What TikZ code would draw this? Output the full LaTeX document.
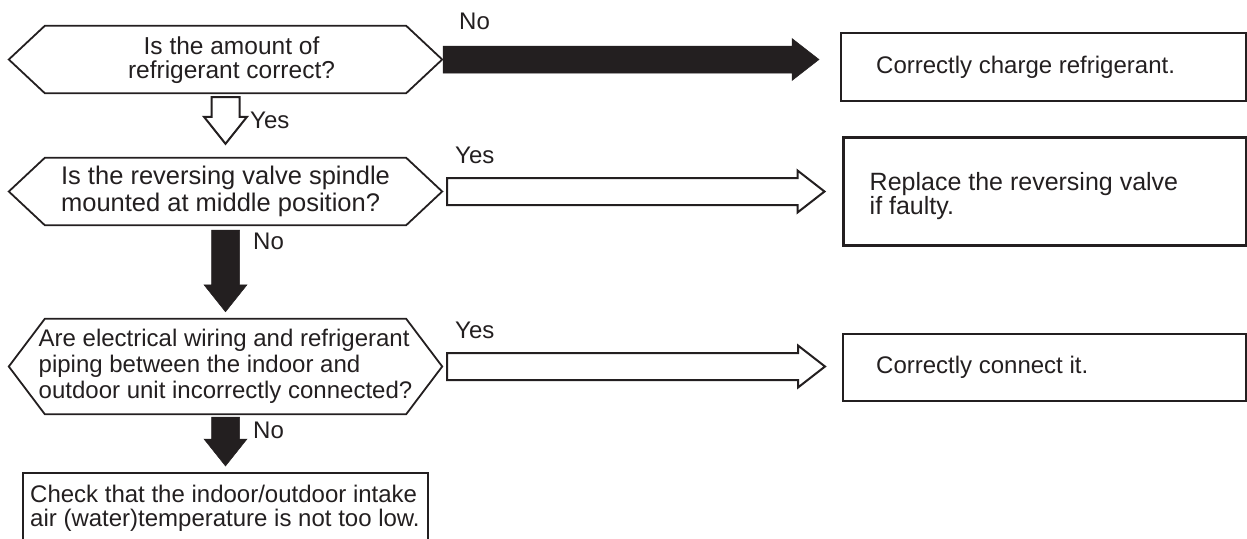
\documentclass[tikz,border=0pt]{standalone}
\usepackage{fontspec}
\setmainfont{Liberation Sans}
\usetikzlibrary{calc}
\definecolor{ink}{RGB}{35,31,32}
% block arrows: #1 style, #2 tail, #3 tip
\newcommand\rightblock[3]{\draw[#1] ($(#2)+(0,13.5)$) -- ($(#3)+(-27,13.5)$) -- ($(#3)+(-27,21)$) -- (#3) -- ($(#3)+(-27,-21)$) -- ($(#3)+(-27,-13.5)$) -- ($(#2)+(0,-13.5)$) -- cycle;}
\newcommand\downblock[3]{\draw[#1] ($(#2)+(-14,0)$) -- ($(#3)+(-14,27)$) -- ($(#3)+(-21.5,27)$) -- (#3) -- ($(#3)+(21.5,27)$) -- ($(#3)+(14,27)$) -- ($(#2)+(14,0)$) -- cycle;}

\begin{document}
\begin{tikzpicture}[x=1pt, y=1pt, ink, text=ink,
	every node/.style={font=\fontsize{24}{26}\selectfont},
	hexbox/.style={inner sep=0, minimum width=361},
	hexline/.style={draw=ink, line width=1.8},
	answer/.style={draw=ink, line width=2, inner sep=0},
	txt/.style={inner sep=0, align=left},
	full/.style={fill=ink, draw=ink, line width=0.5},
	hollow/.style={draw=ink, fill=white, line width=2},
	tag/.style={inner sep=0, anchor=west}]
	\clip (0,0) rectangle (1247,-538);
	% questions
	\node[hexbox, minimum height=67] at (225.5,-59.5) (q1) {};
	\node[hexbox, minimum height=67] at (225.5,-191.5) (q2) {};
	\node[hexbox, minimum height=95] at (225.5,-366.5) (q3) {};
	\foreach \n in {q1,q2,q3}{
		\draw[hexline] ($(\n.west)+(-36,0)$) -- (\n.north west) -- (\n.north east) -- ($(\n.east)+(36,0)$) coordinate (\n-r) -- (\n.south east) -- (\n.south west) -- cycle;
	}
	\node[txt, align=center, font=\fontsize{24.5}{24}\selectfont] at ($(q1)+(6,-1)$) (q1t) {Is the amount of\\refrigerant correct?};
	\node[txt, font=\fontsize{25.5}{27}\selectfont] at (q2) (q2t) {Is the reversing valve spindle\\mounted at middle position?};
	\node[txt] at (q3) (q3t) {Are electrical wiring and refrigerant\\piping between the indoor and\\outdoor unit incorrectly connected?};
	% answers
	\node[answer, minimum width=405, minimum height=68] at (1043.5,-67) (b1) {};
	\node[answer, line width=3, minimum width=403, minimum height=108] at (1044.5,-191) (b2) {};
	\node[answer, minimum width=403, minimum height=67] at (1044.5,-367.5) (b3) {};
	\node[answer, anchor=north, minimum width=405, minimum height=80] at (225.5,-472) (c1) {};
	\node[txt, anchor=west] at ($(b1.west)+(36,0)$) (b1t) {Correctly charge refrigerant.};
	\node[txt, anchor=west, font=\fontsize{25}{24}\selectfont] at ($(b2.west)+(28,-5)$) (b2t) {Replace the reversing valve\\if faulty.};
	\node[txt, anchor=west] at ($(b3.west)+(34,0)$) (b3t) {Correctly connect it.};
	\node[txt, anchor=north west, font=\fontsize{24}{24}\selectfont] at ($(c1.north west)+(8,-12.5)$) (c1t) {Check that the indoor/outdoor intake\\air (water)temperature is not too low.};
	% No / Yes to the right
	\coordinate (h1) at ($(q1-r)+(1,0)$);
	\coordinate (h1t) at ($(h1 -| b1.west)+(-21,0)$);
	\rightblock{full}{h1}{h1t}
	\coordinate (h2) at ($(q2-r)+(5,0)$);
	\coordinate (h2t) at ($(h2 -| b2.west)+(-17,0)$);
	\rightblock{hollow}{h2}{h2t}
	\coordinate (h3) at ($(q3-r)+(5,0)$);
	\coordinate (h3t) at ($(h3 -| b3.west)+(-17,0)$);
	\rightblock{hollow}{h3}{h3t}
	% down the left column
	\coordinate (v1) at ($(q1.south)+(0,-4)$);
	\coordinate (v1t) at ($(q2.north)+(0,14)$);
	\downblock{hollow}{v1}{v1t}
	\coordinate (v2) at ($(q2.south)+(0,-5)$);
	\coordinate (v2t) at ($(q3.north)+(0,7)$);
	\downblock{full}{v2}{v2t}
	\coordinate (v3) at ($(q3.south)+(0,-3)$);
	\coordinate (v3t) at ($(c1.north)+(0,6)$);
	\downblock{full}{v3}{v3t}
	\node[tag] at (459,-21) (t1) {No};
	\node[tag] at (250,-120) (t2) {Yes};
	\node[tag] at (253,-241) (t3) {No};
	\node[tag] at (455,-155) (t4) {Yes};
	\node[tag] at (455,-330) (t5) {Yes};
	\node[tag] at (253,-430) (t6) {No};
\end{tikzpicture}
\end{document}
